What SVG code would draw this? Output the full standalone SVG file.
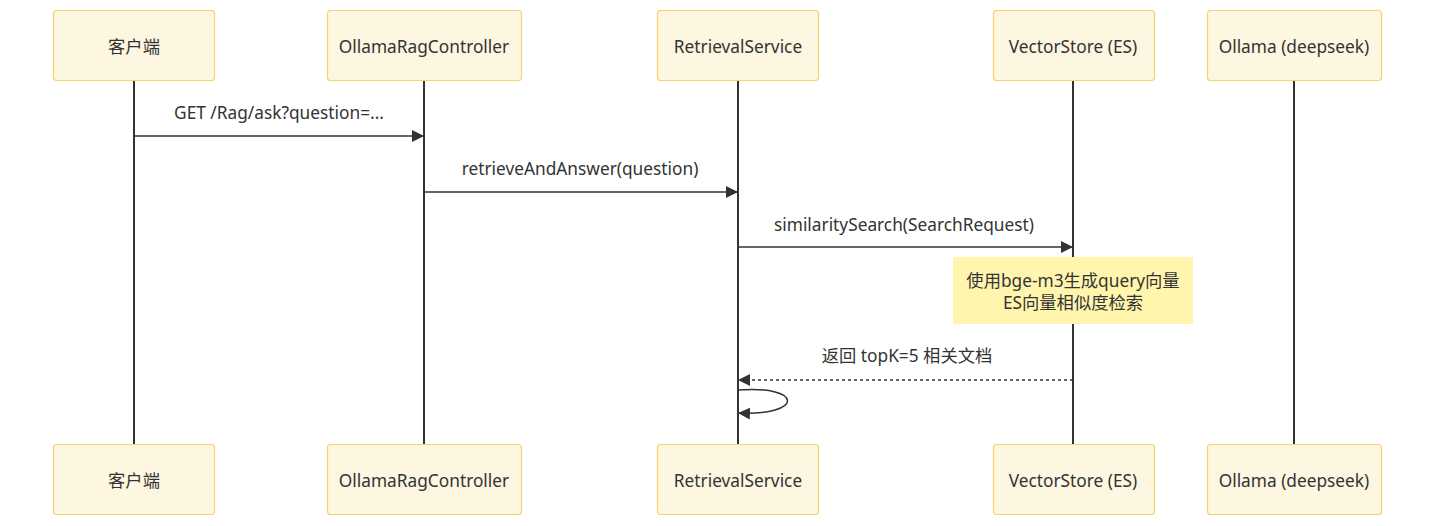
<svg xmlns="http://www.w3.org/2000/svg" width="1436" height="526" viewBox="0 0 1436 526">
<style>
.actor{fill:#fdf6e1;stroke:#f7d36f;stroke-width:1.2}
.t{font-family:"Noto Sans","Noto Sans CJK SC",sans-serif;font-size:17.3px;fill:#333;text-anchor:middle;dominant-baseline:central}
.life{stroke:#333;stroke-width:2}
.msg{stroke:#333;stroke-width:1.5;fill:none}
.dash{stroke-dasharray:3 3}
.note{fill:#fff5ad;stroke:none}
</style>
<defs>
<marker id="ah" viewBox="0 0 12 12" refX="12" refY="6" markerWidth="12" markerHeight="12" markerUnits="userSpaceOnUse" orient="auto">
<path d="M0,0 L12,6 L0,12 z" fill="#333"/>
</marker>
</defs>
<g id="lifelines">
<line class="life" x1="134" y1="80" x2="134" y2="444"/>
<line class="life" x1="424" y1="80" x2="424" y2="444"/>
<line class="life" x1="738" y1="80" x2="738" y2="444"/>
<line class="life" x1="1073" y1="80" x2="1073" y2="444"/>
<line class="life" x1="1294" y1="80" x2="1294" y2="444"/>
</g>
<g id="actor-client-top"><rect class="actor" x="53.5" y="10.5" width="161" height="70" rx="3"/><text class="t" x="134" y="46">客户端</text></g>
<g id="actor-ctrl-top"><rect class="actor" x="327.5" y="10.5" width="194" height="70" rx="3"/><text class="t" x="424" y="46">OllamaRagController</text></g>
<g id="actor-ret-top"><rect class="actor" x="657.5" y="10.5" width="161" height="70" rx="3"/><text class="t" x="738" y="46">RetrievalService</text></g>
<g id="actor-vs-top"><rect class="actor" x="993.5" y="10.5" width="161" height="70" rx="3"/><text class="t" x="1073" y="46">VectorStore (ES)</text></g>
<g id="actor-ollama-top"><rect class="actor" x="1207.5" y="10.5" width="174" height="70" rx="3"/><text class="t" x="1294" y="46">Ollama (deepseek)</text></g>
<g id="actor-client-bot"><rect class="actor" x="53.5" y="444.5" width="161" height="70" rx="3"/><text class="t" x="134" y="480">客户端</text></g>
<g id="actor-ctrl-bot"><rect class="actor" x="327.5" y="444.5" width="194" height="70" rx="3"/><text class="t" x="424" y="480">OllamaRagController</text></g>
<g id="actor-ret-bot"><rect class="actor" x="657.5" y="444.5" width="161" height="70" rx="3"/><text class="t" x="738" y="480">RetrievalService</text></g>
<g id="actor-vs-bot"><rect class="actor" x="993.5" y="444.5" width="161" height="70" rx="3"/><text class="t" x="1073" y="480">VectorStore (ES)</text></g>
<g id="actor-ollama-bot"><rect class="actor" x="1207.5" y="444.5" width="174" height="70" rx="3"/><text class="t" x="1294" y="480">Ollama (deepseek)</text></g>
<g id="note"><rect class="note" x="953" y="257" width="240" height="67"/><text class="t" x="1073" y="280">使用bge-m3生成query向量</text><text class="t" x="1073" y="302">ES向量相似度检索</text></g>
<g id="connectors">
<line class="msg" x1="134" y1="136" x2="424" y2="136" marker-end="url(#ah)"/>
<text class="t" x="279" y="112">GET /Rag/ask?question=...</text>
<line class="msg" x1="424" y1="192" x2="738" y2="192" marker-end="url(#ah)"/>
<text class="t" x="580" y="168">retrieveAndAnswer(question)</text>
<line class="msg" x1="738" y1="247" x2="1073" y2="247" marker-end="url(#ah)"/>
<text class="t" x="904" y="224">similaritySearch(SearchRequest)</text>
<line class="msg dash" x1="1073" y1="380" x2="738" y2="380" marker-end="url(#ah)"/>
<text class="t" x="907" y="355">返回 topK=5 相关文档</text>
<path class="msg" d="M738,390 C804,385 804,416 738,413" marker-end="url(#ah)"/>
</g>
</svg>
